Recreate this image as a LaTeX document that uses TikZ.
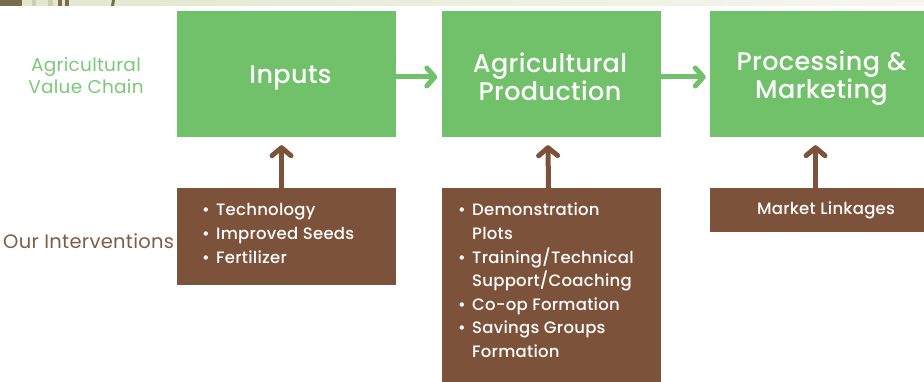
\documentclass[tikz,border=0pt]{standalone}
\usepackage{fontspec}
\setmainfont{Poppins}
\newfontfamily\medfont{Poppins Medium}[LetterSpace=1.5]
\newfontfamily\regfont{Poppins}[LetterSpace=1.5]
\usetikzlibrary{arrows.meta,calc}
\definecolor{vgreen}{RGB}{113,193,106}
\definecolor{vbrown}{RGB}{124,82,58}
\definecolor{lgreen}{RGB}{125,200,120}
\definecolor{lbrown}{RGB}{125,92,72}
\definecolor{bandA}{RGB}{122,108,78}
\definecolor{bandB}{RGB}{226,231,206}
\definecolor{bandC}{RGB}{247,247,240}
\definecolor{bandL}{RGB}{205,205,178}
\newcommand{\bl}{\makebox[14pt][l]{\textbullet}}
\newcommand{\nb}{\makebox[14pt][l]{}}
\begin{document}
\begin{tikzpicture}[x=1pt,y=-1pt,
  stagebox/.style={fill=vgreen, draw=none, minimum width=219pt, minimum height=126pt, inner sep=0pt},
  titletext/.style={text=white, font=\medfont\fontsize{25.5}{24.5}\selectfont, align=center, inner sep=0pt},
  actbox/.style={fill=vbrown, draw=none, minimum width=219pt, inner sep=0pt},
  listtext/.style={text=white, font=\medfont\fontsize{16.5}{23.6}\selectfont, anchor=base west, inner sep=0pt},
  garrow/.style={draw=vgreen, line width=5pt, -{Straight Barb[length=8pt,width=18pt,round]}},
  barrow/.style={draw=vbrown, line width=5pt, -{Straight Barb[length=8pt,width=19pt,round]}}
]
\useasboundingbox (0,0) rectangle (924,382);
% top band
\shade[left color=bandB, right color=bandC] (22,0) rectangle (924,6);
\fill[bandA] (0,0) rectangle (22,6);
\fill[bandL] (32,0) rectangle (36,6);
\fill[bandL] (48,0) rectangle (53,6);
\fill[bandA] (58,0) rectangle (62,6);
\fill[bandA] (65,0) rectangle (69,6);
\fill[bandA] (112,0) -- (115,0) -- (114,6) -- (111,6) -- cycle;

% stage boxes
\node[stagebox, label={[titletext, xshift=4pt, yshift=-4pt]center:{Inputs}}] (s1) at (286.5,74) {};
\node[stagebox, label={[titletext, xshift=-1pt, yshift=-3pt]center:{Agricultural\\Production}}] (s2) at (551,74) {};
\node[stagebox, label={[titletext, xshift=2pt, yshift=-4pt]center:{Processing \&\\Marketing}}] (s3) at (819.5,74) {};

% intervention boxes
\node[actbox, minimum height=97pt] (a1) at (286.5,236.5) {};
\node[actbox, minimum height=210pt] (a2) at (551.5,293) {};
\node[actbox, minimum height=44.5pt] (a3) at (819.5,210.25) {};

% row labels
\node[font=\regfont\fontsize{18.5}{22}\selectfont, text=lgreen, align=center, inner sep=0pt] (vc) at (86,76) {Agricultural\\Value Chain};
\node[font=\regfont\fontsize{19.5}{20}\selectfont, text=lbrown, anchor=west, inner sep=0pt] (oi) at (3,241) {Our Interventions};

% list texts
\node[listtext] (t1) at (202,216) {\begin{tabular}[t]{@{}l@{}}
\bl Technology\\
\bl Improved Seeds\\
\bl Fertilizer
\end{tabular}};
\node[listtext] (t2) at (458,216) {\begin{tabular}[t]{@{}l@{}}
\bl Demonstration\\
\nb Plots\\
\bl Training/Technical\\
\nb Support/Coaching\\
\bl Co-op Formation\\
\bl Savings Groups\\
\nb Formation
\end{tabular}};
\node[listtext, anchor=base] (t3) at (826,215) {Market Linkages};

% arrows
\draw[garrow] ([yshift=-3pt]s1.east) -- ([yshift=-3pt,xshift=-4pt]s2.west);
\draw[garrow] ([yshift=-3pt]s2.east) -- ([yshift=-3pt,xshift=-4pt]s3.west);
\draw[barrow] ([xshift=-5pt]a1.north) -- ([xshift=-5pt,yshift=-8pt]s1.south);
\draw[barrow] ([xshift=-3pt]a2.north) -- ([xshift=-3pt,yshift=-8pt]s2.south);
\draw[barrow] ([xshift=-4pt]a3.north) -- ([xshift=-4pt,yshift=-8pt]s3.south);
\end{tikzpicture}
\end{document}
